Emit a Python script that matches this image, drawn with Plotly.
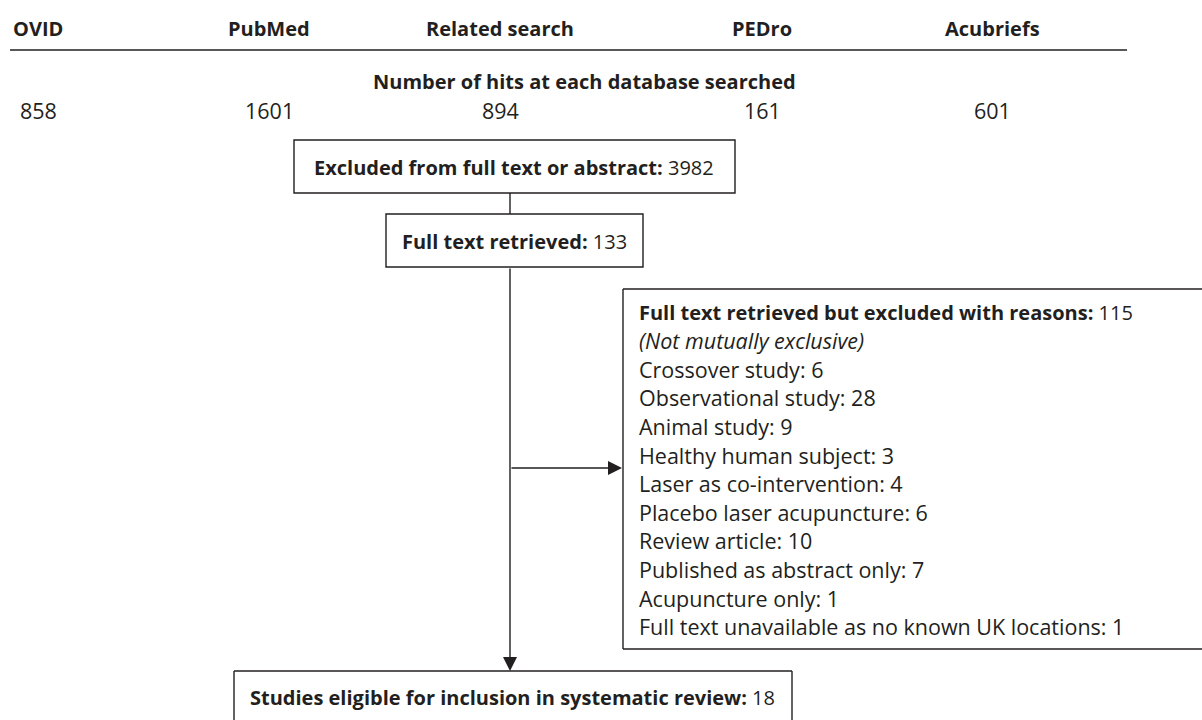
import plotly.graph_objects as go

# ---- data ----
databases = ["OVID", "PubMed", "Related search", "PEDro", "Acubriefs"]
hits = [858, 1601, 894, 161, 601]
excluded_abstract = 3982
full_text_retrieved = 133
excluded_full_text = 115
reasons = ["Crossover study", "Observational study", "Animal study",
           "Healthy human subject", "Laser as co-intervention",
           "Placebo laser acupuncture", "Review article",
           "Published as abstract only", "Acupuncture only",
           "Full text unavailable as no known UK locations"]
reason_counts = [6, 28, 9, 3, 4, 6, 10, 7, 1, 1]
included = 18

# ---- layout constants ----
FONT = "Open Sans"
INK = "#231f20"
FS = 20        # bold / mixed text
FS_REG = 21.5  # plain text lines
col_x = [38, 269, 500, 762, 992]

fig = go.Figure()
ann = []
shapes = []

def text(x, y, s, anchor="center", size=FS):
    ann.append(dict(x=x, y=y, xref="x", yref="y", text=s, showarrow=False,
                    xanchor=anchor, yanchor="middle",
                    font=dict(family=FONT, size=size, color=INK)))

def rect(x0, y0, x1, y1):
    shapes.append(dict(type="rect", xref="x", yref="y", x0=x0, y0=y0, x1=x1, y1=y1,
                       line=dict(color=INK, width=1.4), fillcolor="rgba(0,0,0,0)"))

def line(x0, y0, x1, y1):
    shapes.append(dict(type="line", xref="x", yref="y", x0=x0, y0=y0, x1=x1, y1=y1,
                       line=dict(color=INK, width=1.4)))

def arrow(x0, y0, x1, y1):
    ann.append(dict(x=x1, y=y1, ax=x0, ay=y0, xref="x", yref="y", axref="x", ayref="y",
                    text="", showarrow=True, arrowhead=2, arrowsize=2.0,
                    arrowwidth=1.4, arrowcolor=INK, standoff=0, startstandoff=0))

# header
for cx, name, h in zip(col_x, databases, hits):
    text(cx, 28, f"<b>{name}</b>")
    text(cx, 110, f"{h}", size=FS_REG)
line(10, 50, 1127, 50)
text(584, 81, "<b>Number of hits at each database searched</b>")

# box 1
rect(294, 140, 735, 193)
text(514, 167, f"<b>Excluded from full text or abstract:</b> {excluded_abstract}")
line(510, 193, 510, 214)

# box 2
rect(386, 214, 643, 267)
text(514, 241, f"<b>Full text retrieved:</b> {full_text_retrieved}")

# main vertical arrow
arrow(510, 267, 510, 671)
# side arrow
arrow(510, 468, 622, 468)

# box 3 (runs off the right edge of the picture)
line(623, 289, 1202, 289)
line(623, 289, 623, 649)
line(623, 649, 1202, 649)
text(637, 312, f"<b>Full text retrieved but excluded with reasons:</b> {excluded_full_text}", anchor="left")
text(637, 340.6, "<i>(Not mutually exclusive)</i>", anchor="left", size=FS_REG)
for i, (r, c) in enumerate(zip(reasons, reason_counts)):
    text(637, 312 + (i + 2) * 28.6, f"{r}: {c}", anchor="left", size=FS_REG)

# bottom box (runs off the bottom edge of the picture)
line(234, 671, 792, 671)
line(234, 671, 234, 720)
line(792, 671, 792, 720)
text(248, 697, f"<b>Studies eligible for inclusion in systematic review:</b> {included}", anchor="left")

fig.update_layout(
    width=1202, height=720,
    margin=dict(l=0, r=0, t=0, b=0),
    paper_bgcolor="white", plot_bgcolor="white",
    xaxis=dict(range=[0, 1202], visible=False, fixedrange=True),
    yaxis=dict(range=[720, 0], visible=False, fixedrange=True),
    annotations=ann, shapes=shapes, showlegend=False,
)
fig.write_html("out.html", config={"displayModeBar": False},
               post_script="document.body.style.margin='0';document.body.style.overflow='hidden';")
